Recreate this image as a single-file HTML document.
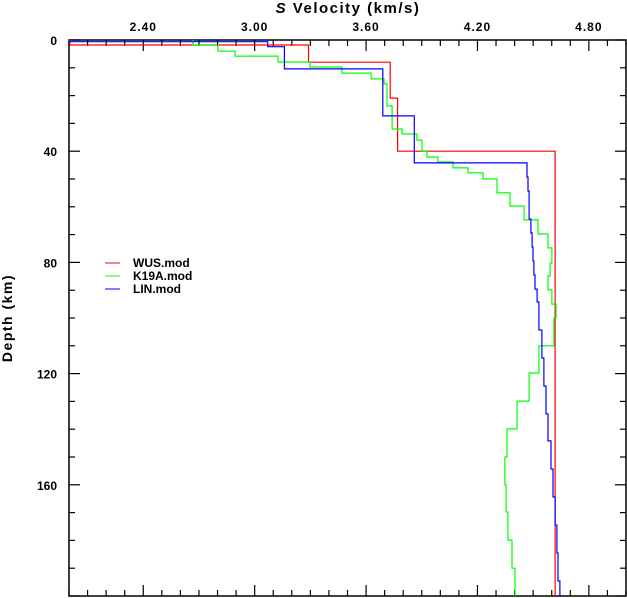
<!DOCTYPE html>
<html><head><meta charset="utf-8"><style>
html,body{margin:0;padding:0;background:#fff;}
svg{display:block;font-family:"Liberation Sans",sans-serif;}
</style></head><body>
<svg id="chart" width="627" height="598" viewBox="0 0 627 598">
<g id="axes"></g>
<g id="series"></g>
<text x="348" y="13" text-anchor="middle" font-size="15" font-weight="bold" letter-spacing="1.5"><tspan font-style="italic">S</tspan> Velocity (km/s)</text>
<text transform="translate(12,318) rotate(-90)" text-anchor="middle" font-size="14" font-weight="bold" letter-spacing="1.5">Depth (km)</text>
<g>
<line x1="105" y1="263" x2="120" y2="263" stroke="#f00" stroke-width="1"/>
<text x="133" y="267" font-size="12" font-weight="bold">WUS.mod</text>
<line x1="105" y1="276" x2="120" y2="276" stroke="#0f0" stroke-width="1"/>
<text x="133" y="280" font-size="12" font-weight="bold">K19A.mod</text>
<line x1="105" y1="289" x2="120" y2="289" stroke="#00f" stroke-width="1"/>
<text x="133" y="293" font-size="12" font-weight="bold">LIN.mod</text>
</g>
</svg>
<script>
const xTickLabels = [2.4, 3.0, 3.6, 4.2, 4.8];
const yTickLabels = [0, 40, 80, 120, 160];
const maxDepth = 200;
const wusTops = [0, 1.8, 8.0, 20.9, 40];
const wusVel = [2.005, 3.29, 3.73, 3.77, 4.618];
const k19aTops = [0,1.8,4.0,5.8,7.9,9.7,11.9,14.0,15.8,23.7,32.0,33.8,36.0,39.9,42.1,43.9,46.0,47.8,50.0,55.0,59.7,64.7,69.8,74.8,80.2,84.9,89.9,95.0,100,110,119.8,129.9,139.9,150,160,169.8,179.9,190];
const k19aVel = [2.668,2.802,2.894,3.126,3.298,3.470,3.627,3.697,3.713,3.740,3.794,3.874,3.901,3.928,3.987,4.068,4.149,4.230,4.305,4.375,4.451,4.526,4.580,4.601,4.591,4.580,4.601,4.623,4.612,4.531,4.478,4.413,4.359,4.348,4.354,4.364,4.386,4.402];
const linTops = [0,0.6,2.4,10.4,27.3,44.2,49.3,54.3,64.4,69.4,74.5,79.5,84.5,89.6,94.2,104.3,114.4,124.5,134.5,144.2,154.3,164.4,174.5,184.5,194.6];
const linVel = [2.0,3.07,3.16,3.69,3.86,4.467,4.472,4.478,4.488,4.494,4.499,4.504,4.510,4.521,4.531,4.547,4.558,4.569,4.580,4.596,4.607,4.618,4.628,4.634,4.644];

const X0=69, X1=626, Y0=40, Y1=596, VMIN=2.0, VMAX=5.0;
function xs(v){return X0+(v-VMIN)/(VMAX-VMIN)*(X1-X0);}
function ys(d){return Y0+d/maxDepth*(Y1-Y0);}
const NS="http://www.w3.org/2000/svg";
const axes=document.getElementById('axes');
function mk(tag,attrs,parent){const e=document.createElementNS(NS,tag);for(const k in attrs)e.setAttribute(k,attrs[k]);parent.appendChild(e);return e;}

const frame=mk('rect',{x:X0,y:Y0,width:X1-X0,height:Y1-Y0,fill:'none',stroke:'#000','stroke-width':1.5},axes);



for(let i=0;i<=30;i++){
  const v=VMIN+i*0.1; const x=xs(v);
  const major=xTickLabels.some(t=>Math.abs(t-v)<1e-6);
  const L=major?11:6;
  const t1=mk('line',{x1:x,y1:Y0,x2:x,y2:Y0+L,stroke:'#000','stroke-width':1.2},axes);
  
  
  const t2=mk('line',{x1:x,y1:Y1,x2:x,y2:Y1-L,stroke:'#000','stroke-width':1.2},axes);
  
  
}
xTickLabels.forEach(v=>{
  const t=mk('text',{x:xs(v),y:31,'text-anchor':'middle','font-size':12,'font-weight':'bold','letter-spacing':'1'},axes);
  t.textContent=v.toFixed(2);
  
  
});
for(let d=0;d<=maxDepth;d+=10){
  const y=ys(d); const major=d%40===0; const L=major?11:6;
  const t1=mk('line',{x1:X0,y1:y,x2:X0+L,y2:y,stroke:'#000','stroke-width':1.2},axes);
  
  
  const t2=mk('line',{x1:X1,y1:y,x2:X1-L,y2:y,stroke:'#000','stroke-width':1.2},axes);
  
  
}
yTickLabels.forEach(d=>{
  const t=mk('text',{x:57,y:ys(d)+5,'text-anchor':'end','font-size':12,'font-weight':'bold'},axes);
  t.textContent=String(d);
  
  
});

const series=document.getElementById('series');
function stair(tops,vel,color,name){
  let pts=[];
  for(let i=0;i<tops.length;i++){
    const top=tops[i], bot=(i+1<tops.length)?tops[i+1]:maxDepth;
    pts.push(xs(vel[i]).toFixed(1)+','+ys(top).toFixed(1));
    pts.push(xs(vel[i]).toFixed(1)+','+ys(bot).toFixed(1));
  }
  const p=mk('polyline',{points:pts.join(' '),fill:'none',stroke:color,'stroke-width':1.2},series);
  
  
}
stair(wusTops,wusVel,'#f00','wus-model-line');
stair(k19aTops,k19aVel,'#0f0','k19a-model-line');
stair(linTops,linVel,'#00f','lin-model-line');
</script>
</body></html>
